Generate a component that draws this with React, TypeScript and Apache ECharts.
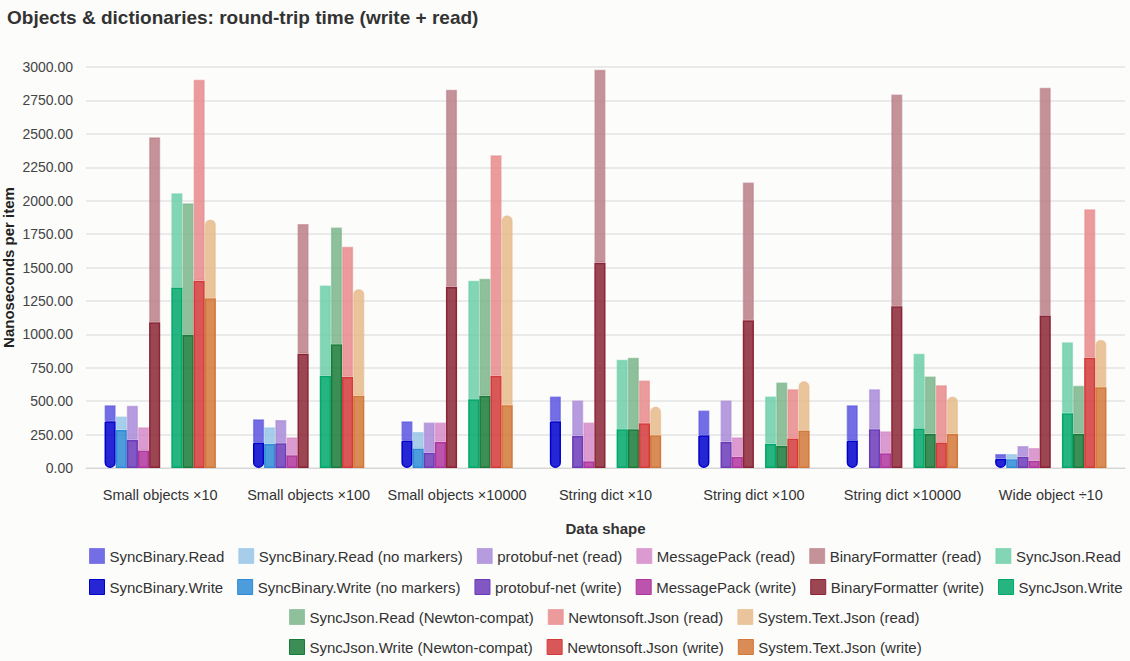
import React, { useEffect, useRef } from "react";
import * as echarts from "echarts";

const categories = [
  "Small objects ×10",
  "Small objects ×100",
  "Small objects ×10000",
  "String dict ×10",
  "String dict ×100",
  "String dict ×10000",
  "Wide object ÷10",
];

const yTicks = { min: 0, max: 3000, interval: 250 };

const syncBinaryWrite = [350, 190, 205, 350, 245, 205, 70];
const syncBinaryRead = [120, 175, 145, 185, 185, 265, 35];
const noMarkersWrite = [285, 180, 145, null, null, null, 65];
const noMarkersRead = [100, 125, 125, null, null, null, 40];
const protobufWrite = [210, 185, 115, 240, 195, 290, 85];
const protobufRead = [255, 175, 225, 265, 310, 300, 80];
const msgpackWrite = [130, 95, 195, 50, 85, 110, 55];
const msgpackRead = [175, 135, 145, 290, 145, 165, 95];
const binFmtWrite = [1090, 855, 1355, 1535, 1105, 1210, 1140];
const binFmtRead = [1385, 970, 1475, 1445, 1030, 1585, 1705];
const syncJsonWrite = [1350, 690, 515, 290, 180, 295, 410];
const syncJsonRead = [705, 675, 885, 520, 355, 560, 530];
const syncJsonNcWrite = [995, 925, 540, 290, 165, 255, 255];
const syncJsonNcRead = [985, 875, 875, 535, 475, 430, 360];
const newtonsoftWrite = [1400, 680, 690, 335, 220, 190, 825];
const newtonsoftRead = [1505, 975, 1650, 320, 370, 430, 1110];
const stjWrite = [1270, 540, 470, 245, 280, 255, 605];
const stjRead = [590, 800, 1420, 215, 370, 280, 355];

type Stack = {
  key: string;
  writeName: string;
  readName: string;
  write: (number | null)[];
  read: (number | null)[];
  writeColor: string;
  readColor: string;
  writeRadius?: number[];
  readRadius?: number[];
};

const stacks: (Stack | null)[] = [
  {
    key: "sb",
    writeName: "SyncBinary.Write",
    readName: "SyncBinary.Read",
    write: syncBinaryWrite,
    read: syncBinaryRead,
    writeColor: "#0000cc",
    readColor: "#5b55e0",
    writeRadius: [0, 0, 6, 6],
  },
  {
    key: "sbn",
    writeName: "SyncBinary.Write (no markers)",
    readName: "SyncBinary.Read (no markers)",
    write: noMarkersWrite,
    read: noMarkersRead,
    writeColor: "#2e8bd6",
    readColor: "#96c5e8",
  },
  {
    key: "pb",
    writeName: "protobuf-net (write)",
    readName: "protobuf-net (read)",
    write: protobufWrite,
    read: protobufRead,
    writeColor: "#6b3bb8",
    readColor: "#a98ad8",
  },
  {
    key: "mp",
    writeName: "MessagePack (write)",
    readName: "MessagePack (read)",
    write: msgpackWrite,
    read: msgpackRead,
    writeColor: "#b0359e",
    readColor: "#d68ac8",
  },
  {
    key: "bf",
    writeName: "BinaryFormatter (write)",
    readName: "BinaryFormatter (read)",
    write: binFmtWrite,
    read: binFmtRead,
    writeColor: "#8b2535",
    readColor: "#bb7f88",
  },
  null,
  {
    key: "sj",
    writeName: "SyncJson.Write",
    readName: "SyncJson.Read",
    write: syncJsonWrite,
    read: syncJsonRead,
    writeColor: "#00a86b",
    readColor: "#6ccfa8",
  },
  {
    key: "sjn",
    writeName: "SyncJson.Write (Newton-compat)",
    readName: "SyncJson.Read (Newton-compat)",
    write: syncJsonNcWrite,
    read: syncJsonNcRead,
    writeColor: "#1a7a3a",
    readColor: "#7ab58a",
  },
  {
    key: "nj",
    writeName: "Newtonsoft.Json (write)",
    readName: "Newtonsoft.Json (read)",
    write: newtonsoftWrite,
    read: newtonsoftRead,
    writeColor: "#d43a3a",
    readColor: "#e88a8a",
  },
  {
    key: "stj",
    writeName: "System.Text.Json (write)",
    readName: "System.Text.Json (read)",
    write: stjWrite,
    read: stjRead,
    writeColor: "#d27838",
    readColor: "#e6bb8a",
    readRadius: [6, 6, 0, 0],
  },
];

const legendRows = [
  ["SyncBinary.Read", "SyncBinary.Read (no markers)", "protobuf-net (read)", "MessagePack (read)", "BinaryFormatter (read)", "SyncJson.Read"],
  ["SyncBinary.Write", "SyncBinary.Write (no markers)", "protobuf-net (write)", "MessagePack (write)", "BinaryFormatter (write)", "SyncJson.Write"],
  ["SyncJson.Read (Newton-compat)", "Newtonsoft.Json (read)", "System.Text.Json (read)"],
  ["SyncJson.Write (Newton-compat)", "Newtonsoft.Json (write)", "System.Text.Json (write)"],
];

const FONT = "'Liberation Sans', Arial, sans-serif";

function withAlpha(hex: string, a: number) {
  const n = parseInt(hex.slice(1), 16);
  return `rgba(${(n >> 16) & 255},${(n >> 8) & 255},${n & 255},${a})`;
}

function buildSeries() {
  const out: any[] = [];
  stacks.forEach((s, i) => {
    if (!s) {
      out.push({
        type: "bar",
        name: "__spacer",
        stack: "spacer" + i,
        data: categories.map(() => null),
      });
      return;
    }
    out.push({
      type: "bar",
      name: s.writeName,
      stack: s.key,
      data: s.write,
      itemStyle: {
        color: withAlpha(s.writeColor, 0.85),
        borderColor: s.writeColor,
        borderWidth: 1.5,
        borderRadius: s.writeRadius || 0,
      },
    });
    out.push({
      type: "bar",
      name: s.readName,
      stack: s.key,
      data: s.read,
      itemStyle: {
        color: withAlpha(s.readColor, 0.85),
        borderColor: withAlpha(s.readColor, 0.6),
        borderWidth: 1.5,
        borderRadius: s.readRadius || 0,
      },
    });
  });
  return out;
}

export default function App() {
  const ref = useRef<HTMLDivElement>(null);

  useEffect(() => {
    if (!ref.current) return;
    const chart = echarts.init(ref.current, null, { renderer: "svg" });
    const legendLefts = [84, 84, 284, 284];
    const legendTops = [548, 579, 609, 639];
    chart.setOption({
      animation: false,
      backgroundColor: "#fcfcfb",
      textStyle: { fontFamily: FONT },
      title: {
        text: "Objects & dictionaries: round-trip time (write + read)",
        left: 2,
        top: 3,
        textStyle: { fontSize: 19, fontWeight: "bold", color: "#333", fontFamily: FONT },
      },
      legend: legendRows.map((row, i) => ({
        data: row,
        left: legendLefts[i],
        top: legendTops[i] - 5,
        orient: "horizontal",
        icon: "rect",
        itemWidth: 15,
        itemHeight: 15,
        itemGap: 14,
        textStyle: { fontSize: 15, color: "#333", fontFamily: FONT },
        itemStyle: { borderRadius: 0, borderWidth: 1 },
      })),
      grid: {
        left: 86,
        right: 5,
        top: 67,
        bottom: 193,
        containLabel: false,
        outerBoundsMode: "none",
      },
      xAxis: {
        type: "category",
        data: categories,
        name: "Data shape",
        nameLocation: "middle",
        nameGap: 53,
        nameMoveOverlap: false,
        nameTextStyle: { fontSize: 15, fontWeight: "bold", color: "#333" },
        axisLine: { lineStyle: { color: "#d6d6d6", width: 1 } },
        axisTick: { length: 7, lineStyle: { color: "#cccccc" } },
        axisLabel: { fontSize: 14.5, color: "#333", margin: 19, interval: 0 },
      },
      yAxis: {
        type: "value",
        min: yTicks.min,
        max: yTicks.max,
        interval: yTicks.interval,
        name: "Nanoseconds per item",
        nameLocation: "middle",
        nameGap: 70,
        nameMoveOverlap: false,
        nameTextStyle: { fontSize: 15, fontWeight: "bold", color: "#222" },
        axisLabel: {
          fontSize: 14,
          color: "#444",
          margin: 13,
          formatter: (v: number) => v.toFixed(2),
        },
        splitLine: { lineStyle: { color: "#e4e4e4", width: 1.5 } },
      },
      series: buildSeries().map((s) => ({
        ...s,
        barGap: "0%",
        barCategoryGap: "25%",
      })),
    });
    return () => chart.dispose();
  }, []);

  return (
    <div
      ref={ref}
      style={{ position: "absolute", left: 0, top: 0, width: 1130, height: 661 }}
    />
  );
}
